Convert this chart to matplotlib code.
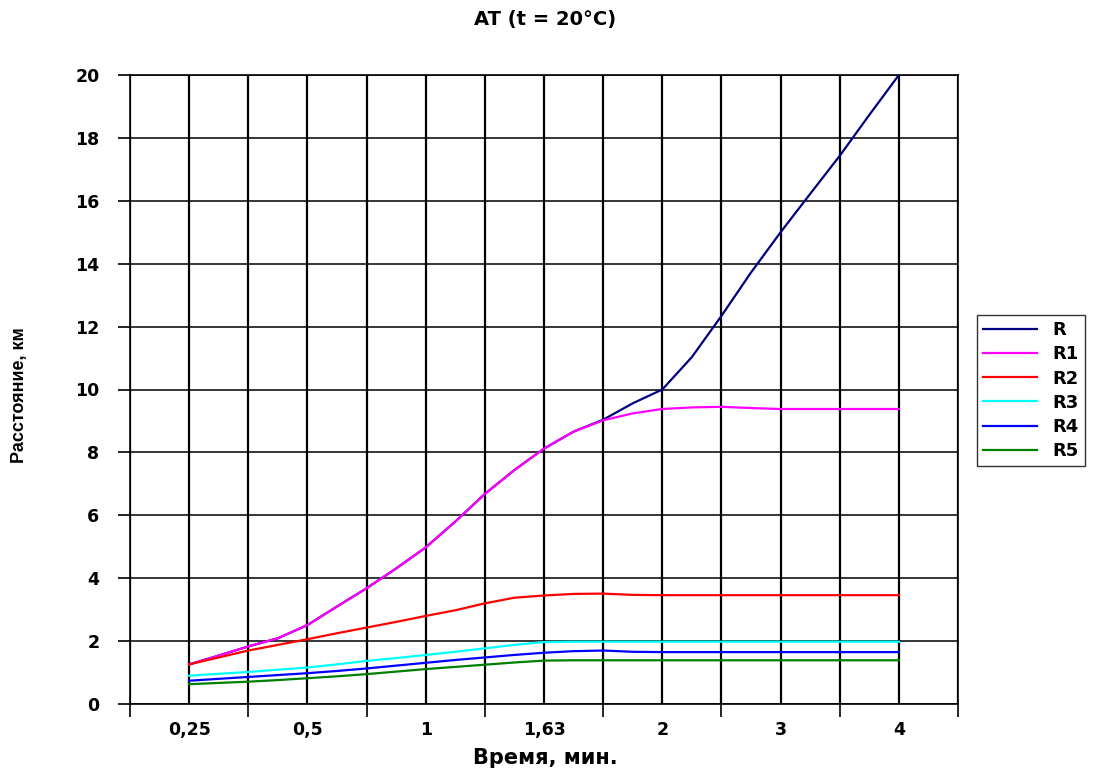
import matplotlib
matplotlib.use("Agg")
import matplotlib.pyplot as plt
import numpy as np

# Category labels (time, min) shown on the axis
time_labels = ["0,25", "0,5", "1", "1,63", "2", "3", "4"]

# Series sampled at half-category steps (25 points, from 0,25 to 4)
R = [1.26, 1.54, 1.83, 2.09, 2.51, 3.10, 3.68, 4.31, 4.98, 5.80, 6.68, 7.44, 8.12,
     8.66, 9.04, 9.56, 10.00, 11.03, 12.34, 13.72, 15.00, 16.22, 17.43, 18.73, 20.00]
R1 = [1.26, 1.54, 1.83, 2.09, 2.51, 3.10, 3.68, 4.31, 4.98, 5.80, 6.68, 7.44, 8.12,
      8.66, 9.02, 9.24, 9.38, 9.43, 9.45, 9.41, 9.38, 9.38, 9.38, 9.38, 9.38]
R2 = [1.26, 1.48, 1.70, 1.88, 2.06, 2.25, 2.43, 2.61, 2.80, 2.98, 3.20, 3.38, 3.45,
      3.50, 3.51, 3.47, 3.46, 3.46, 3.46, 3.46, 3.46, 3.46, 3.46, 3.46, 3.46]
R3 = [0.90, 0.96, 1.02, 1.09, 1.16, 1.26, 1.37, 1.46, 1.56, 1.66, 1.77, 1.88, 1.97,
      1.98, 1.98, 1.98, 1.98, 1.98, 1.98, 1.98, 1.98, 1.98, 1.98, 1.98, 1.98]
R4 = [0.74, 0.80, 0.86, 0.92, 0.98, 1.05, 1.13, 1.22, 1.31, 1.40, 1.48, 1.56, 1.63,
      1.68, 1.70, 1.66, 1.65, 1.65, 1.65, 1.65, 1.65, 1.65, 1.65, 1.65, 1.65]
R5 = [0.63, 0.67, 0.71, 0.76, 0.82, 0.88, 0.95, 1.03, 1.11, 1.18, 1.25, 1.32, 1.38,
      1.39, 1.39, 1.39, 1.39, 1.39, 1.39, 1.39, 1.39, 1.39, 1.39, 1.39, 1.39]

series_names = ["R", "R1", "R2", "R3", "R4", "R5"]
series_colors = ["#000080", "#FF00FF", "#FF0000", "#00FFFF", "#0000FF", "#008000"]

plt.rcParams['font.family'] = ['DejaVu Sans']

fig = plt.figure(figsize=(11.04, 7.73), dpi=100)
ax = fig.add_axes([130/1104, 1-704/773, 828/1104, 629/773])

n = len(R)
xpos = 1 + np.arange(n) * 0.5
for name, vals, col in zip(series_names, [R, R1, R2, R3, R4, R5], series_colors):
    ax.plot(xpos, vals, color=col, lw=1.6, label=name, zorder=3)

ax.set_xlim(0, 14)
ax.set_ylim(0, 20)

# x ticks: marks at category boundaries, labels at category centers
ax.set_xticks(np.arange(0, 15, 2))
ax.set_xticklabels([])
ax.set_xticks(np.arange(1, 14, 2), minor=True)
ax.set_xticklabels(time_labels, minor=True)
ax.tick_params(axis='x', which='major', length=9, width=1.2, color='black', direction='out')
ax.tick_params(axis='x', which='minor', length=0, pad=12)
for lbl in ax.get_xticklabels(minor=True):
    lbl.set_fontweight('bold')
    lbl.set_fontsize(12.5)

ax.set_yticks(np.arange(0, 21, 2))
ax.tick_params(axis='y', length=9, width=1.2, direction='out', pad=13)
for lbl in ax.get_yticklabels():
    lbl.set_fontweight('bold')
    lbl.set_fontsize(12.5)

ax.grid(which='both', axis='x', color='black', lw=1.6)
ax.grid(which='major', axis='y', color='black', lw=1.1)
ax.set_axisbelow(True)
for s in ax.spines.values():
    s.set_color('black')
    s.set_linewidth(1.2)

fig.text(545/1104, 1-19/773, "AT (t = 20°C)", ha='center', va='center',
         fontsize=14, fontweight='bold')
fig.text(545/1104, 1-758/773, "Время, мин.", ha='center', va='center',
         fontsize=15, fontweight='bold')
fig.text(20/1104, 1-395/773, "Расстояние, км", ha='center', va='center',
         rotation=90, fontsize=13, fontweight='bold',
         family=['Liberation Sans Narrow', 'Liberation Sans'])

leg = fig.legend(loc='upper left', bbox_to_anchor=(977/1104, 1-315/773),
                 bbox_transform=fig.transFigure, frameon=True, fancybox=False,
                 edgecolor='black', borderaxespad=0, handlelength=3.0,
                 handletextpad=0.8, labelspacing=0.34, borderpad=0.35,
                 prop={'weight': 'bold', 'size': 13})
leg.get_frame().set_linewidth(1.0)

fig.savefig("out.png", dpi=100, facecolor='white')
